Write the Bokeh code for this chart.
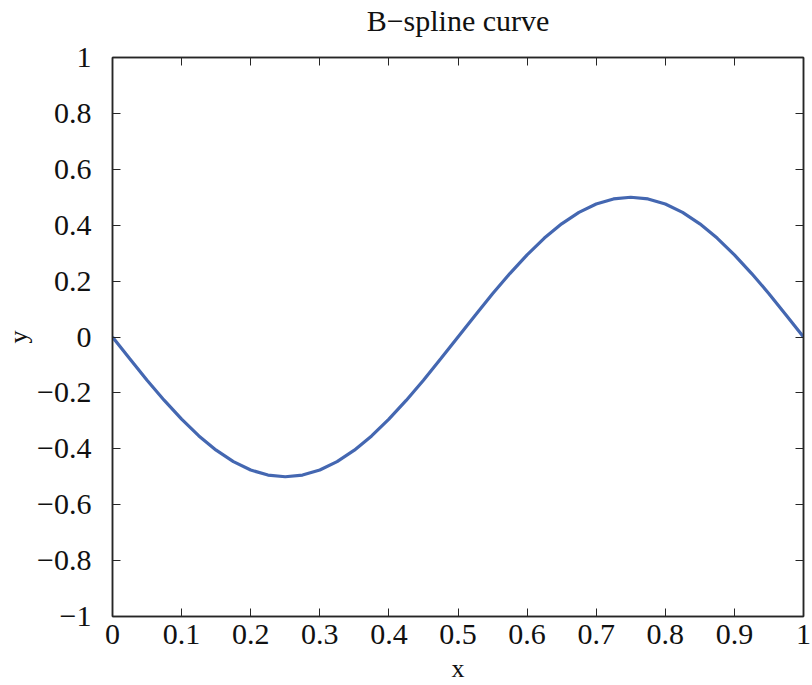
from bokeh.plotting import figure
from bokeh.models import LinearAxis, FixedTicker, Range1d
from bokeh.embed import file_html
from bokeh.resources import INLINE

title_text = "B\u2212spline curve"
x_label = "x"
y_label = "y"

x_vals = [0.0, 0.025, 0.05, 0.075, 0.1, 0.125, 0.15, 0.175, 0.2, 0.225, 0.25,
          0.275, 0.3, 0.325, 0.35, 0.375, 0.4, 0.425, 0.45, 0.475, 0.5,
          0.525, 0.55, 0.575, 0.6, 0.625, 0.65, 0.675, 0.7, 0.725, 0.75,
          0.775, 0.8, 0.825, 0.85, 0.875, 0.9, 0.925, 0.95, 0.975, 1.0]
y_vals = [0.0, -0.078, -0.155, -0.227, -0.294, -0.354, -0.405, -0.446, -0.476, -0.494, -0.5,
          -0.494, -0.476, -0.446, -0.405, -0.354, -0.294, -0.227, -0.155, -0.078, 0.0,
          0.078, 0.155, 0.227, 0.294, 0.354, 0.405, 0.446, 0.476, 0.494, 0.5,
          0.494, 0.476, 0.446, 0.405, 0.354, 0.294, 0.227, 0.155, 0.078, 0.0]

x_ticks = [0, 0.1, 0.2, 0.3, 0.4, 0.5, 0.6, 0.7, 0.8, 0.9, 1]
y_ticks = [-1, -0.8, -0.6, -0.4, -0.2, 0, 0.2, 0.4, 0.6, 0.8, 1]
x_tick_labels = ["0", "0.1", "0.2", "0.3", "0.4", "0.5", "0.6", "0.7", "0.8", "0.9", "1"]
y_tick_labels = ["\u22121", "\u22120.8", "\u22120.6", "\u22120.4", "\u22120.2", "0",
                 "0.2", "0.4", "0.6", "0.8", "1"]

FONT = "Liberation Serif"
AX = "#262626"

p = figure(width=812, height=685, output_backend="svg", toolbar_location=None,
           x_range=Range1d(x_ticks[0], x_ticks[-1]), y_range=Range1d(y_ticks[0], y_ticks[-1]),
           x_axis_location=None, y_axis_location=None,
           min_border_left=112, min_border_right=9, min_border_top=55, min_border_bottom=68)

p.grid.visible = False
p.outline_line_color = AX
p.outline_line_width = 1.5
p.background_fill_color = "white"
p.border_fill_color = "white"

def make_axis(ticks, labels, show_labels, axis_label=None, label_size="26px"):
    ax = LinearAxis(ticker=FixedTicker(ticks=ticks))
    ax.major_label_overrides = {t: l for t, l in zip(ticks, labels)}
    ax.major_tick_in = 8
    ax.major_tick_out = 0
    ax.minor_tick_in = 0
    ax.minor_tick_out = 0
    ax.major_tick_line_color = AX
    ax.axis_line_color = AX
    ax.axis_line_width = 1.5
    ax.major_label_text_font = FONT
    ax.major_label_text_font_size = "30px"
    ax.major_label_text_color = "#111111"
    if not show_labels:
        ax.major_label_text_alpha = 0
        ax.major_label_text_font_size = "1px"
        ax.major_label_standoff = 0
    if axis_label:
        ax.axis_label = axis_label
        ax.axis_label_text_font = FONT
        ax.axis_label_text_font_size = label_size
        ax.axis_label_text_font_style = "normal"
        ax.axis_label_text_color = "#111111"
    return ax

xb = make_axis(x_ticks, x_tick_labels, True, x_label)
xb.major_label_standoff = 8
xb.axis_label_standoff = 7
yl = make_axis(y_ticks, y_tick_labels, True, y_label)
yl.major_label_standoff = 21
yl.axis_label_standoff = 1
# top axis carries the chart title as its label
xt = make_axis(x_ticks, x_tick_labels, False, title_text, label_size="30px")
xt.axis_label_standoff = 21
yr = make_axis(y_ticks, y_tick_labels, False)

p.add_layout(xb, "below")
p.add_layout(yl, "left")
p.add_layout(xt, "above")
p.add_layout(yr, "right")

p.line(x_vals, y_vals, line_color="#4467b1", line_width=3.2)

open("out.html", "w").write(file_html(p, INLINE))
